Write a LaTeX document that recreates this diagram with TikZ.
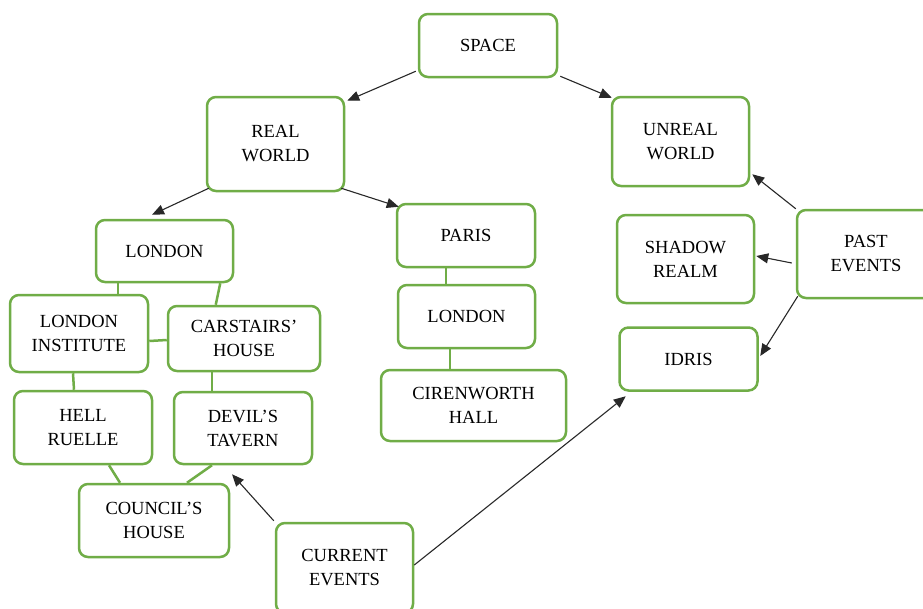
\documentclass[tikz,border=0pt]{standalone}
\usepackage{fontspec}
\setmainfont{Liberation Serif}
\usetikzlibrary{arrows.meta,calc}
\definecolor{boxgreen}{RGB}{112,173,71}
\definecolor{arrowgray}{RGB}{40,40,40}
\tikzset{
  box/.style={draw=boxgreen, line width=2.5pt, rounded corners=9pt, inner sep=0pt,
    align=center, font=\fontsize{18.5}{24}\selectfont, text=black},
  arr/.style={draw=arrowgray, line width=1.1pt, -{Triangle[length=12pt,width=10pt]}},
  link/.style={draw=boxgreen, line width=2.5pt}
}
\begin{document}
\begin{tikzpicture}[x=1pt,y=-1pt]
\useasboundingbox (0,0) rectangle (923,608);
\clip (0,0) rectangle (923,608);
\fill[white] (0,0) rectangle (923,608);
% nodes
\node[box, minimum width=138pt, minimum height=63pt] (space) at (488,45.5) {SPACE};
\node[box, minimum width=137pt, minimum height=94pt] (real) at (275.5,144) {REAL\\WORLD};
\node[box, minimum width=137pt, minimum height=89pt] (unreal) at (680.5,141.5) {UNREAL\\WORLD};
\node[box, minimum width=137pt, minimum height=62pt] (london) at (164.5,251) {LONDON};
\node[box, minimum width=138pt, minimum height=63pt] (paris) at (466,235.5) {PARIS};
\node[box, minimum width=137pt, minimum height=63pt] (londontwo) at (466.5,316.5) {LONDON};
\node[box, minimum width=185pt, minimum height=71pt] (ciren) at (473.5,405.5) {CIRENWORTH\\HALL};
\node[box, minimum width=137pt, minimum height=88pt] (shadow) at (685.5,259) {SHADOW\\REALM};
\node[box, minimum width=138pt, minimum height=88pt] (past) at (866,254) {PAST\\EVENTS};
\node[box, minimum width=138pt, minimum height=63pt] (idris) at (688.5,359) {IDRIS};
\node[box, minimum width=138pt, minimum height=77pt] (linst) at (79,333.5) {LONDON\\INSTITUTE};
\node[box, minimum width=152pt, minimum height=65pt] (carst) at (244,338.5) {CARSTAIRS’\\HOUSE};
\node[box, minimum width=138pt, minimum height=73pt] (hell) at (83,427.5) {HELL\\RUELLE};
\node[box, minimum width=138pt, minimum height=72pt] (devil) at (243,428) {DEVIL’S\\TAVERN};
\node[box, minimum width=150pt, minimum height=73pt] (council) at (154,520.5) {COUNCIL’S\\HOUSE};
\node[box, minimum width=137pt, minimum height=90pt] (current) at (344.5,568) {CURRENT\\EVENTS};
% green links
\draw[link] ($(london.south west)+(23,0)$) -- ($(linst.north west)+(109,0)$);
\draw[link] ($(london.south east)+(-14,0)$) -- ($(carst.north west)+(49,0)$);
\draw[link] ($(linst.east)+(0,7.5)$) -- ($(carst.west)+(0,1.5)$);
\draw[link] ($(linst.south)+(-6,0)$) -- ($(hell.north)+(-9,0)$);
\draw[link] ($(carst.south)+(-32,0)$) -- ($(devil.north)+(-31,0)$);
\draw[link] ($(hell.south)+(26,0)$) -- ($(council.north)+(-34,0)$);
\draw[link] ($(devil.south)+(-31,0)$) -- ($(council.north)+(33,0)$);
\draw[link] ($(paris.south)+(-20,0)$) -- ($(londontwo.north)+(-20.5,0)$);
\draw[link] ($(londontwo.south)+(-16.5,0)$) -- ($(ciren.north)+(-23.5,0)$);
% arrows
\draw[arr] ($(space.south west)+(-2,-7)$) -- ($(real.north east)+(2,5)$);
\draw[arr] ($(space.south east)+(2,-2)$) -- ($(unreal.north west)+(1,2)$);
\draw[arr] ($(real.south west)+(3,-4)$) -- ($(london.north)+(-12.5,-4)$);
\draw[arr] ($(real.south east)+(-4,-4)$) -- ($(paris.north west)+(3,4)$);
\draw[arr] (past.north west) -- ($(unreal.south east)+(2,-13)$);
\draw[arr] ($(past.west)+(-4,9)$) -- ($(shadow.east)+(1,-3)$);
\draw[arr] ($(past.south west)+(2,-3)$) -- ($(idris.east)+(1.5,-3)$);
\draw[arr] ($(current.north west)+(-1,-1)$) -- ($(devil.south)+(-11,9)$);
\draw[arr] ($(current.east)+(0,-3)$) -- ($(idris.south west)+(7.5,4.5)$);
\end{tikzpicture}
\end{document}
